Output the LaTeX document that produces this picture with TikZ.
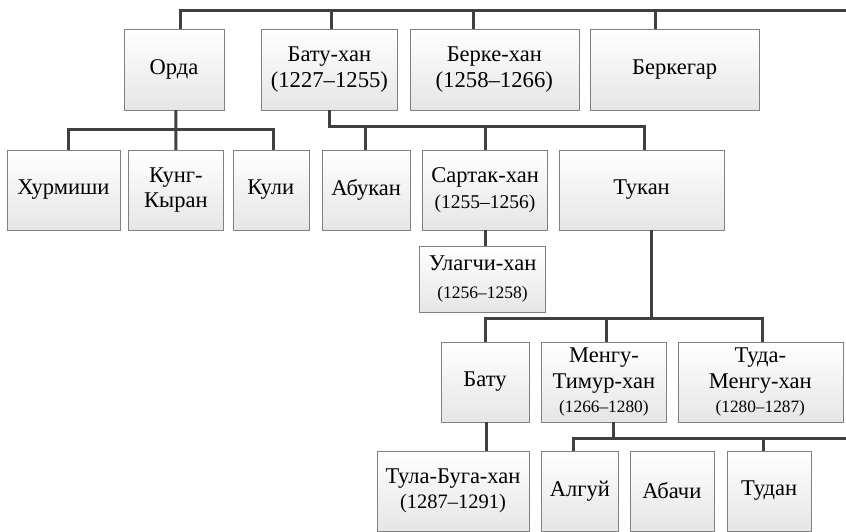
\documentclass[tikz,border=0pt]{standalone}
\usepackage{fontspec}
\setmainfont{Liberation Serif}
\usepackage{tikz}
\usetikzlibrary{positioning}

\newcommand{\yrs}[2]{{\fontsize{#1}{26}\selectfont #2}}

\begin{document}
\begin{tikzpicture}[
    x=1pt,
    y=-1pt,
    node distance=12pt,
    font=\fontsize{22.5}{26}\selectfont,
    khan/.style={
		rectangle,
		draw=black!50,
		top color=white,
		bottom color=black!10,
		text centered,
		align=center,
		inner xsep=1pt,
		inner ysep=2pt,
		minimum height=80pt
	},
	link/.style={
		draw=black!75,
		line width=3pt
	}
  ]

 \useasboundingbox (0,0) rectangle (846,531);
 \coordinate (topend) at (846,10);
 \coordinate (mengend) at (846,438);

% // first row
 \node [khan, minimum width=100pt, minimum height=81pt] (orda) at (174,69.5) {Орда};
 \node [khan, right=37pt of orda, minimum width=136pt, minimum height=81pt] (batuhan) {Бату-хан\\\yrs{22.7}{(1227–1255)}};
 \node [khan, right=12pt of batuhan, minimum width=169pt, minimum height=81pt] (berke) {Берке-хан\\\yrs{22.7}{(1258–1266)}};
 \node [khan, right=11pt of berke, minimum width=169pt, minimum height=81pt] (berkegar) {Беркегар};

% // second row
 \node [khan, minimum width=113pt] (hurm) at (63.5,190) {Хурмиши};
 \node [khan, right=8pt of hurm, minimum width=95pt] (kung) {Кунг-\\[-1pt]Кыран};
 \node [khan, right=9pt of kung, minimum width=76pt] (kuli) {Кули};
 \node [khan, right=13pt of kuli, minimum width=88pt] (abukan) {Абукан};
 \node [khan, right=12pt of abukan, minimum width=125pt] (sartak) {Сартак-хан\\\yrs{19.5}{(1255–1256)}};
 \node [khan, right=11pt of sartak, minimum width=165pt] (tukan) {Тукан};
 \node [khan, below=16pt of sartak, xshift=-2.5pt, minimum width=126pt, minimum height=66pt] (ulagchi) {Улагчи-хан\\[2pt]\yrs{17.5}{(1256–1258)}};

% // third row
 \node [khan, minimum width=88pt] (batu) at (485,382) {Бату};
 \node [khan, right=12pt of batu, minimum width=125pt] (mengu) {Менгу-\\Тимур-хан\\[-2pt]\yrs{17.3}{(1266–1280)}};
 \node [khan, right=11pt of mengu, minimum width=165pt] (tuda) {Туда-\\Менгу-хан\\[-2pt]\yrs{17.3}{(1280–1287)}};

% // fourth row
 \node [khan, minimum width=152pt] (tula) at (453,491) {Тула-Буга-хан\\[-1pt]\yrs{20.5}{(1287–1291)}};
 \node [khan, right=12pt of tula, minimum width=77pt] (algui) {Алгуй};
 \node [khan, right=11pt of algui, minimum width=84pt] (abachi) {Абачи};
 \node [khan, right=13pt of abachi, minimum width=84pt] (tudan) {Тудан};

% // connectors
 \draw [link] ([xshift=6pt]orda.north) |- (topend);
 \draw [link] ([xshift=2pt]batuhan.north) -- ++(0,-19);
 \draw [link] ([xshift=-20.5pt]berke.north) -- ++(0,-19);
 \draw [link] ([xshift=-19.5pt]berkegar.north) -- ++(0,-19);

 \draw [link] ([xshift=4.5pt]hurm.north) -- ++(0,-20) -| ([xshift=3pt]kuli.north);
 \draw [link] (kung.north) -- ++(0,-20) -- ([xshift=2pt]orda.south);

 \draw [link] ([xshift=2.5pt]tukan.north) -- ++(0,-23) -| (batuhan.south);
 \draw [link] ([xshift=-1pt]abukan.north) -- ++(0,-23);
 \draw [link] (sartak.north) -- ++(0,-23);
 \draw [link] ([xshift=0.5pt]sartak.south) -- ([xshift=3pt]ulagchi.north);

 \draw [link] ([xshift=9.5pt]tukan.south) -- ++(0,89);
 \draw [link] (batu.north) -- ++(0,-23) -| ([xshift=2.5pt]tuda.north);
 \draw [link] ([xshift=2.5pt]mengu.north) -- ++(0,-23);
 \draw [link] ([xshift=1pt]batu.south) -- ([xshift=33pt]tula.north);

 \draw [link] ([xshift=9.5pt]mengu.south) -- ++(0,16);
 \draw [link] ([xshift=-6.5pt]algui.north) |- (mengend);
 \draw [link] ([xshift=-6pt]tudan.north) -- ++(0,-13);

\end{tikzpicture}
\end{document}
